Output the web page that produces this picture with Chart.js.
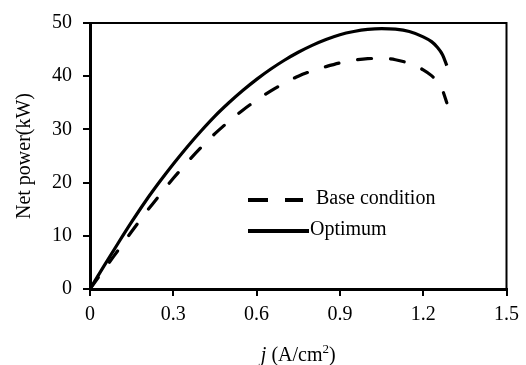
<!DOCTYPE html>
<html>
<head>
<meta charset="utf-8">
<script src="https://cdn.jsdelivr.net/npm/chart.js@4/dist/chart.umd.min.js"></script>
<style>
  html, body { margin: 0; padding: 0; background: #fff; }
  #wrap { width: 526px; height: 365px; }
</style>
</head>
<body>
<div id="wrap"><canvas id="c" width="526" height="365"></canvas></div>
<script>
// Current density j (A/cm2)
const currentDensity = [0, 0.05, 0.10, 0.15, 0.20, 0.25, 0.30, 0.35, 0.40, 0.45, 0.50, 0.55, 0.60, 0.65, 0.70, 0.75, 0.80, 0.85, 0.90, 0.95, 1.00, 1.05, 1.10, 1.15, 1.20, 1.23, 1.25, 1.27, 1.285];
// Net power (kW) at base condition
const baseCondition = [0, 3.6, 7.2, 10.8, 14.3, 17.6, 20.8, 23.8, 26.6, 29.2, 31.5, 33.6, 35.5, 37.2, 38.7, 40.0, 41.0, 41.8, 42.5, 43.0, 43.3, 43.35, 43.1, 42.4, 41.2, 40.1, 39.0, 37.3, 35.0];
// Net power (kW) at optimum condition
const optimum = [0, 4.3, 8.5, 12.6, 16.5, 20.1, 23.5, 26.7, 29.7, 32.5, 35.0, 37.3, 39.4, 41.3, 43.0, 44.5, 45.8, 46.9, 47.8, 48.4, 48.8, 48.95, 48.85, 48.4, 47.4, 46.5, 45.5, 44.0, 42.0];

const xTickLabels = ['0', '0.3', '0.6', '0.9', '1.2', '1.5'];
const yTickLabels = ['0', '10', '20', '30', '40', '50'];
const seriesNames = ['Base condition', 'Optimum'];

const FONT = 'Liberation Serif, "Times New Roman", serif';
const FS = 20;

function points(ys) {
  return currentDensity.map((x, i) => ({ x: x, y: ys[i] }));
}

// Axis titles, top/right frame and the in-plot legend
const decorations = {
  id: 'decorations',
  afterDraw(chart) {
    const ctx = chart.ctx;
    const a = chart.chartArea;
    ctx.save();

    // top and right frame lines
    ctx.strokeStyle = '#000';
    ctx.lineWidth = 2;
    ctx.beginPath();
    ctx.moveTo(a.left, a.top);
    ctx.lineTo(a.right, a.top);
    ctx.lineTo(a.right, a.bottom);
    ctx.stroke();

    ctx.fillStyle = '#000';

    // y-axis title
    ctx.save();
    ctx.translate(25, (a.top + a.bottom) / 2);
    ctx.rotate(-Math.PI / 2);
    ctx.font = FS + 'px ' + FONT;
    ctx.textAlign = 'center';
    ctx.textBaseline = 'middle';
    ctx.fillText('Net power(kW)', 0, 0);
    ctx.restore();

    // x-axis title: italic j, units with superscript 2
    const cx = (a.left + a.right) / 2;
    const base = 361;
    const p1 = 'j';
    const p2 = ' (A/cm';
    const p3 = '2';
    const p4 = ')';
    ctx.textBaseline = 'alphabetic';
    ctx.font = 'italic ' + FS + 'px ' + FONT;
    const w1 = ctx.measureText(p1).width;
    ctx.font = FS + 'px ' + FONT;
    const w2 = ctx.measureText(p2).width;
    const w4 = ctx.measureText(p4).width;
    ctx.font = '13px ' + FONT;
    const w3 = ctx.measureText(p3).width;
    let x = cx - (w1 + w2 + w3 + w4) / 2;
    ctx.textAlign = 'left';
    ctx.font = 'italic ' + FS + 'px ' + FONT;
    ctx.fillText(p1, x, base); x += w1;
    ctx.font = FS + 'px ' + FONT;
    ctx.fillText(p2, x, base); x += w2;
    ctx.font = '13px ' + FONT;
    ctx.fillText(p3, x, base - 8); x += w3;
    ctx.font = FS + 'px ' + FONT;
    ctx.fillText(p4, x, base);

    // legend
    ctx.lineWidth = 4;
    ctx.lineCap = 'butt';
    const lx = a.left + 158;
    ctx.setLineDash([20, 17]);
    ctx.beginPath();
    ctx.moveTo(lx, 200);
    ctx.lineTo(lx + 55, 200);
    ctx.stroke();
    ctx.setLineDash([]);
    ctx.beginPath();
    ctx.moveTo(lx, 231);
    ctx.lineTo(lx + 61, 231);
    ctx.stroke();
    ctx.font = FS + 'px ' + FONT;
    ctx.textBaseline = 'middle';
    ctx.fillText(seriesNames[0], lx + 68, 199);
    ctx.fillText(seriesNames[1], lx + 62, 230);

    ctx.restore();
  }
};

new Chart(document.getElementById('c'), {
  type: 'line',
  data: {
    datasets: [
      {
        label: seriesNames[0],
        data: points(baseCondition),
        borderColor: '#000',
        borderWidth: 3.2,
        borderDash: [14, 19],
        borderCapStyle: 'round',
        pointRadius: 0,
        cubicInterpolationMode: 'monotone',
        fill: false
      },
      {
        label: seriesNames[1],
        data: points(optimum),
        borderColor: '#000',
        borderWidth: 3.2,
        pointRadius: 0,
        cubicInterpolationMode: 'monotone',
        fill: false
      }
    ]
  },
  options: {
    responsive: false,
    animation: false,
    devicePixelRatio: 1,
    layout: { padding: { left: 0, right: 17, top: 20, bottom: 0 } },
    plugins: {
      legend: { display: false },
      tooltip: { enabled: false }
    },
    scales: {
      x: {
        type: 'linear',
        min: 0,
        max: 1.5,
        afterFit(scale) { scale.height = 76; },
        afterBuildTicks(scale) {
          scale.ticks = xTickLabels.map(v => ({ value: parseFloat(v) }));
        },
        ticks: {
          color: '#000',
          font: { family: FONT, size: FS },
          padding: 7,
          maxRotation: 0,
          autoSkip: false,
          callback: (v, i) => xTickLabels[i]
        },
        grid: { drawOnChartArea: false, drawTicks: true, tickLength: 7, lineWidth: 2, color: '#000' },
        border: { display: true, width: 3, color: '#000' }
      },
      y: {
        type: 'linear',
        min: 0,
        max: 50,
        afterFit(scale) { scale.width = 90; },
        afterBuildTicks(scale) {
          scale.ticks = yTickLabels.map(v => ({ value: parseFloat(v) }));
        },
        ticks: {
          color: '#000',
          font: { family: FONT, size: FS },
          padding: 11,
          autoSkip: false,
          callback: (v, i) => yTickLabels[i]
        },
        grid: { drawOnChartArea: false, drawTicks: true, tickLength: 7, lineWidth: 2, color: '#000' },
        border: { display: true, width: 3, color: '#000' }
      }
    }
  },
  plugins: [decorations]
});
</script>
</body>
</html>
